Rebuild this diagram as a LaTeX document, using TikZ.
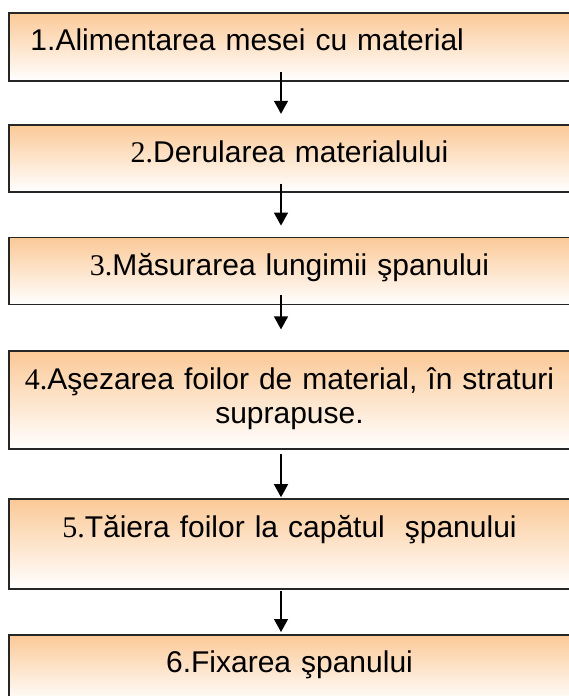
\documentclass[tikz,border=0pt]{standalone}
\usepackage{fontspec}
\setmainfont{Liberation Sans}
\newfontfamily\numfont{Liberation Serif}
\usetikzlibrary{arrows.meta, positioning}
\definecolor{boxorange}{RGB}{251,201,151}

\tikzset{
  stepbox/.style={rectangle, draw=black!85, line width=1.8pt,
    top color=boxorange, middle color=boxorange!45, bottom color=white,
    minimum width=561pt, inner sep=0pt, text width=530pt, align=center,
    text height=38pt, font=\fontsize{30}{34}\selectfont},
  flow/.style={-{Triangle[width=14pt,length=13pt]}, line width=1.3pt}
}

\begin{document}
\begin{tikzpicture}[x=1pt, y=1pt, node distance=44pt]
  \useasboundingbox (0,0) rectangle (568,-696);

  \node[stepbox, anchor=north, text depth=30pt, text width=518pt, align=left] (b1) at (289.5,-12)
    {1.Alimentarea mesei cu material};
  \node[stepbox, below=42pt of b1, text depth=29pt] (b2)
    {{\numfont 2.}Derularea materialului};
  \node[stepbox, below=of b2, text depth=29pt] (b3)
    {{\numfont 3.}Măsurarea lungimii şpanului};
  \node[stepbox, below=45pt of b3, text depth=60pt] (b4)
    {{\numfont 4.}Aşezarea foilor de material, în straturi\\suprapuse.};
  \node[stepbox, below=48pt of b4, text depth=52pt] (b5)
    {{\numfont 5.}Tăiera foilor la capătul~ şpanului};
  \node[stepbox, below=of b5, text depth=30pt] (b6)
    {6.Fixarea şpanului};

  % arrows between the steps
  \foreach \from/\to/\s/\e in {b1/b2/10/10, b2/b3/9/11, b3/b4/10/21, b4/b5/-4/1, b5/b6/-1/2}
    \draw[flow] ([xshift=-8.5pt, yshift=\s pt]\from.south) -- ([xshift=-8.5pt, yshift=\e pt]\to.north);
\end{tikzpicture}
\end{document}
